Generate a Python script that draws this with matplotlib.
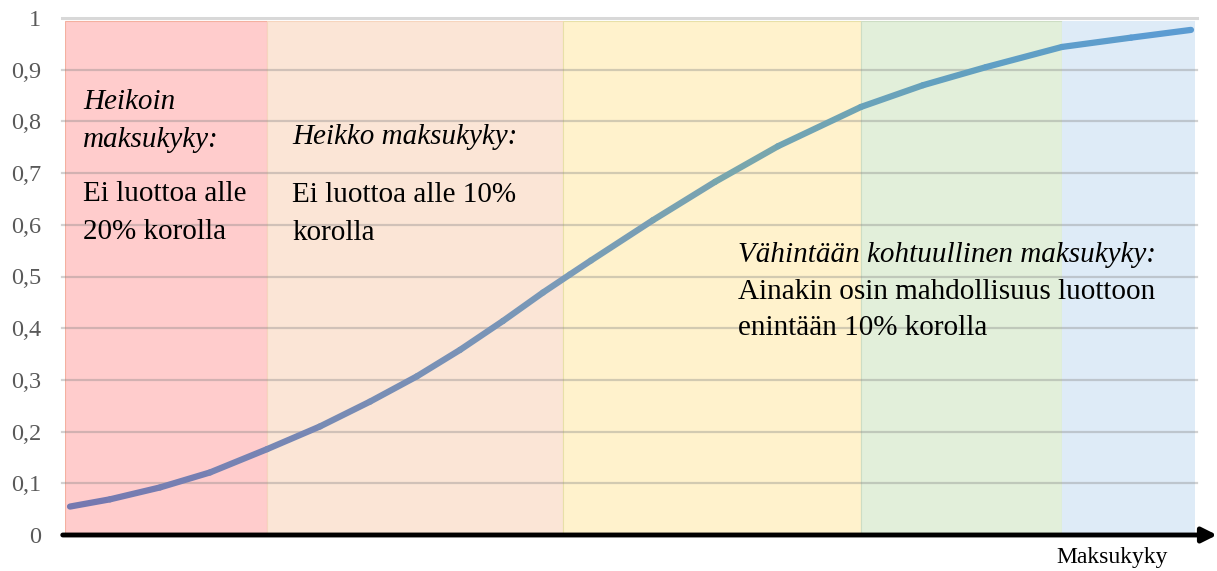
import numpy as np
import matplotlib
matplotlib.use("Agg")
import matplotlib.pyplot as plt
from matplotlib.collections import LineCollection
from matplotlib.colors import LinearSegmentedColormap

# --- data ---
band_edges = [0, 2.02, 4.98, 7.96, 9.97, 11.3]
band_colors = ["#ffcccc", "#fbe5d6", "#fff2cc", "#e2efda", "#deebf7"]
band_edgecolors = ["#f4b0a0", "#f6d5be", "#e8e0a8", "#cdddc4", "#deebf7"]

curve_x = [0.05, 0.45, 0.95, 1.45, 2.02, 2.55, 3.05, 3.52, 3.95, 4.38, 4.78,
           5.05, 5.26, 5.88, 6.50, 7.13, 7.96, 8.58, 9.21, 9.97, 10.66, 11.26]
curve_y = [0.055, 0.069, 0.092, 0.121, 0.166, 0.210, 0.258, 0.307, 0.358, 0.414, 0.469,
           0.504, 0.531, 0.609, 0.683, 0.752, 0.828, 0.870, 0.905, 0.944, 0.962, 0.977]

yticks = [0, 0.1, 0.2, 0.3, 0.4, 0.5, 0.6, 0.7, 0.8, 0.9, 1]
ytick_labels = ["0", "0,1", "0,2", "0,3", "0,4", "0,5", "0,6", "0,7", "0,8", "0,9", "1"]

plt.rcParams["font.family"] = ["Liberation Serif", "DejaVu Serif"]

W, H = 1217, 571
fig = plt.figure(figsize=(W / 100, H / 100), dpi=100)
ax = fig.add_axes([65 / W, (H - 535) / H, 1130 / W, 517 / H])
ax.set_xlim(0, 11.3)
ax.set_ylim(0, 1)

# taustavyöhykkeet
for i, c in enumerate(band_colors):
    ax.axvspan(band_edges[i], band_edges[i + 1], ymin=0, ymax=0.995,
               facecolor=c, edgecolor=band_edgecolors[i], lw=0.8, zorder=0)

# ruudukko
for t in yticks[1:]:
    ax.axhline(t, xmin=-0.003, xmax=1.002, color="#808080",
               alpha=0.35 if t < 1 else 0.3, lw=1.6 if t < 1 else 2.2,
               zorder=1, clip_on=False)

# käyrä liukuvärillä
cmap = LinearSegmentedColormap.from_list(
    "grad", [(0, "#7577b0"), (0.45, "#7a9bb8"), (0.6, "#78a6ad"),
             (0.8, "#62a0c0"), (1, "#5b9bd5")])
pts = np.column_stack([curve_x, curve_y])
segs = np.stack([pts[:-1], pts[1:]], axis=1)
mid = (np.array(curve_x[:-1]) + np.array(curve_x[1:])) / 2 / 11.3
lc = LineCollection(segs, colors=cmap(mid), linewidths=4.5,
                    capstyle="round", joinstyle="round", zorder=3)
ax.add_collection(lc)

# akselit
for s in ax.spines.values():
    s.set_visible(False)
ax.set_xticks([])
ax.set_yticks(yticks)
ax.set_yticklabels(ytick_labels)
ax.tick_params(axis="y", length=0, pad=17, labelsize=17.5, labelcolor="#595959")

ax.annotate("", xy=(1 + 22 / 1130, 0), xytext=(-0.002, 0),
            xycoords="axes fraction", textcoords="axes fraction",
            arrowprops=dict(arrowstyle="-|>", lw=3.5, color="black",
                            mutation_scale=22, shrinkA=0, shrinkB=0),
            zorder=5, annotation_clip=False)
fig.text(1112 / W, 1 - 557 / H, "Maksukyky", fontsize=17, ha="center", va="center")


def ypos(pix):
    return (535 - pix) / 517


def xpos(pix):
    return (pix - 65) / 100


fs = 21
ax.text(xpos(83), ypos(121), "Heikoin\nmaksukyky:", style="italic", fontsize=fs,
        va="center", ha="left", linespacing=1.6, zorder=4)
ax.text(xpos(83), ypos(213), "Ei luottoa alle\n20% korolla", fontsize=fs,
        va="center", ha="left", linespacing=1.6, zorder=4)
ax.text(xpos(292), ypos(137), "Heikko maksukyky:", style="italic", fontsize=fs,
        va="center", ha="left", zorder=4)
ax.text(xpos(292), ypos(214), "Ei luottoa alle 10%\nkorolla", fontsize=fs,
        va="center", ha="left", linespacing=1.6, zorder=4)
ax.text(xpos(738), ypos(255), "Vähintään kohtuullinen maksukyky:", style="italic",
        fontsize=fs, va="center", ha="left", zorder=4)
ax.text(xpos(738), ypos(310), "Ainakin osin mahdollisuus luottoon\nenintään 10% korolla",
        fontsize=fs, va="center", ha="left", linespacing=1.52, zorder=4)

fig.savefig("out.png", dpi=100)
